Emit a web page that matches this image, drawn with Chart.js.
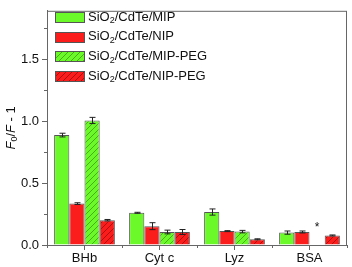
<!DOCTYPE html>
<html>
<head>
<meta charset="utf-8">
<script src="https://cdn.jsdelivr.net/npm/chart.js@4/dist/chart.umd.min.js"></script>
<style>
  html, body { margin: 0; padding: 0; background: #fff; }
  #wrap { width: 352px; height: 267px; }
</style>
</head>
<body>
<div id="wrap"><canvas id="chart" width="352" height="267"></canvas></div>
<script>
// values
const categories = ["BHb", "Cyt c", "Lyz", "BSA"];
const seriesLabels = ["SiO2/CdTe/MIP", "SiO2/CdTe/NIP", "SiO2/CdTe/MIP-PEG", "SiO2/CdTe/NIP-PEG"];
const mip = [0.887, 0.26, 0.266, 0.10];
const nip = [0.334, 0.152, 0.112, 0.105];
const mipPeg = [1.005, 0.105, 0.108, null];
const nipPeg = [0.20, 0.105, 0.046, 0.077];
const mipErr = [0.015, 0.004, 0.025, 0.013];
const nipErr = [0.007, 0.028, 0.004, 0.008];
const mipPegErr = [0.025, 0.015, 0.01, null];
const nipPegErr = [0.006, 0.02, 0.004, 0.004];
const yTicks = [0, 0.5, 1.0, 1.5];
const starValue = 0.165;

const FONT = "'Liberation Sans', Arial, sans-serif";
const GREEN = "#6cf92a";
const RED = "#fb1c1c";
const EDGE = "#555";

function hatch(base, line) {
    const c = document.createElement("canvas");
    c.width = 6;
    c.height = 6;
    const g = c.getContext("2d");
    g.fillStyle = base;
    g.fillRect(0, 0, 6, 6);
    g.strokeStyle = line;
    g.lineWidth = 0.8;
    g.beginPath();
    g.moveTo(0, 6); g.lineTo(6, 0);
    g.moveTo(-3, 3); g.lineTo(3, -3);
    g.moveTo(3, 9); g.lineTo(9, 3);
    g.stroke();
    return g.createPattern(c, "repeat");
}

const fills = [GREEN, RED, hatch(GREEN, "#3d9e1a"), hatch(RED, "#9a0d0d")];
const values = [mip, nip, mipPeg, nipPeg];
const errors = [mipErr, nipErr, mipPegErr, nipPegErr];

// label with subscript 2 after "SiO"
function drawSubLabel(ctx, text, x, y, size, sub) {
    const head = text.slice(0, 3);
    const tail = text.slice(4);
    ctx.font = size + "px " + FONT;
    ctx.fillText(head, x, y);
    let w = ctx.measureText(head).width;
    ctx.font = Math.round(size * 0.7) + "px " + FONT;
    ctx.fillText(sub, x + w, y + size * 0.3);
    w += ctx.measureText(sub).width;
    ctx.font = size + "px " + FONT;
    ctx.fillText(tail, x + w, y);
}

const extras = {
    id: "extras",
    afterDatasetsDraw(chart) {
        const ctx = chart.ctx;
        const ys = chart.scales.y;
        ctx.save();
        ctx.strokeStyle = "#222";
        ctx.lineWidth = 1;
        errors.forEach((errs, d) => {
            const meta = chart.getDatasetMeta(d);
            errs.forEach((e, i) => {
                const v = values[d][i];
                if (v === null || e === null) return;
                const x = Math.round(meta.data[i].x) + 0.5;
                const y1 = ys.getPixelForValue(v + e);
                const y0 = ys.getPixelForValue(v - e);
                ctx.beginPath();
                ctx.moveTo(x, y0); ctx.lineTo(x, y1);
                ctx.moveTo(x - 3, y1); ctx.lineTo(x + 3, y1);
                ctx.moveTo(x - 3, y0); ctx.lineTo(x + 3, y0);
                ctx.stroke();
            });
        });
        ctx.restore();
    },
    afterDraw(chart) {
        const ctx = chart.ctx;
        const a = chart.chartArea;
        const xs = chart.scales.x;
        const ys = chart.scales.y;
        ctx.save();
        // frame
        ctx.strokeStyle = "#666";
        ctx.lineWidth = 1;
        ctx.strokeRect(a.left + 0.5, a.top + 0.5, a.right - a.left - 1, a.bottom - a.top);
        // minor ticks
        ctx.beginPath();
        for (let v = 0.25; v < ys.max; v += 0.5) {
            const y = Math.round(ys.getPixelForValue(v)) + 0.5;
            ctx.moveTo(a.left - 3, y); ctx.lineTo(a.left, y);
        }
        for (let i = 0; i <= categories.length; i++) {
            const x = Math.round(xs.getPixelForValue(i - 0.5)) + 0.5;
            ctx.moveTo(x, a.bottom); ctx.lineTo(x, a.bottom + 3);
        }
        ctx.stroke();

        // y title: F0/F - 1, rotated
        ctx.fillStyle = "#111";
        ctx.translate(11, (a.top + a.bottom) / 2);
        ctx.rotate(-Math.PI / 2);
        ctx.textBaseline = "middle";
        const parts = [
            ["italic 13px " + FONT, "F", 0],
            ["9px " + FONT, "0", 4],
            ["13px " + FONT, "/", 0],
            ["italic 13px " + FONT, "F", 0],
            ["13px " + FONT, " - 1", 0]
        ];
        let total = 0;
        parts.forEach(p => { ctx.font = p[0]; total += ctx.measureText(p[1]).width; });
        let px = -total / 2;
        parts.forEach(p => {
            ctx.font = p[0];
            ctx.fillText(p[1], px, p[2]);
            px += ctx.measureText(p[1]).width;
        });
        ctx.setTransform(1, 0, 0, 1, 0, 0);

        // legend
        ctx.textBaseline = "middle";
        seriesLabels.forEach((label, i) => {
            const cy = 17 + i * 19.7;
            ctx.fillStyle = fills[i];
            ctx.fillRect(55, Math.round(cy - 5), 30, 11);
            ctx.strokeStyle = EDGE;
            ctx.strokeRect(55.5, Math.round(cy - 5) + 0.5, 29, 10);
            ctx.fillStyle = "#111";
            drawSubLabel(ctx, label, 88, cy, 13, "2");
        });

        // asterisk over the missing BSA bar
        const m1 = chart.getDatasetMeta(1).data[3];
        const m3 = chart.getDatasetMeta(3).data[3];
        ctx.font = "12px " + FONT;
        ctx.textAlign = "center";
        ctx.fillStyle = "#111";
        ctx.fillText("*", (m1.x + m3.x) / 2, ys.getPixelForValue(starValue) + 3);
        ctx.restore();
    }
};

new Chart(document.getElementById("chart"), {
    type: "bar",
    data: {
        labels: categories,
        datasets: seriesLabels.map((label, i) => ({
            label,
            data: values[i],
            backgroundColor: fills[i],
            borderColor: EDGE,
            borderWidth: 1,
            categoryPercentage: 0.81,
            barPercentage: 1.0,
        })),
    },
    options: {
        responsive: false,
        animation: false,
        layout: { padding: { top: 3, right: 5, left: 0, bottom: 0 } },
        plugins: {
            legend: { display: false },
            tooltip: { enabled: false },
        },
        scales: {
            x: {
                offset: true,
                grid: { display: true, offset: false, drawOnChartArea: false, tickLength: 5, color: "#666" },
                border: { color: "#666" },
                ticks: { color: "#111", font: { family: FONT, size: 13 }, padding: 1, maxRotation: 0 },
                afterFit: s => { s.height = 22; },
            },
            y: {
                min: 0,
                max: 1.89,
                grid: {
                    display: true,
                    drawOnChartArea: false,
                    tickLength: 5,
                    color: c => (c.tick && yTicks.includes(c.tick.value)) ? "#666" : "rgba(0,0,0,0)",
                },
                border: { color: "#666" },
                ticks: {
                    stepSize: 0.25,
                    color: "#111",
                    font: { family: FONT, size: 13 },
                    padding: 3,
                    callback: v => yTicks.includes(v) ? v.toFixed(1) : "",
                },
                afterFit: s => { s.width = 47; },
            },
        },
    },
    plugins: [extras],
});
</script>
</body>
</html>
